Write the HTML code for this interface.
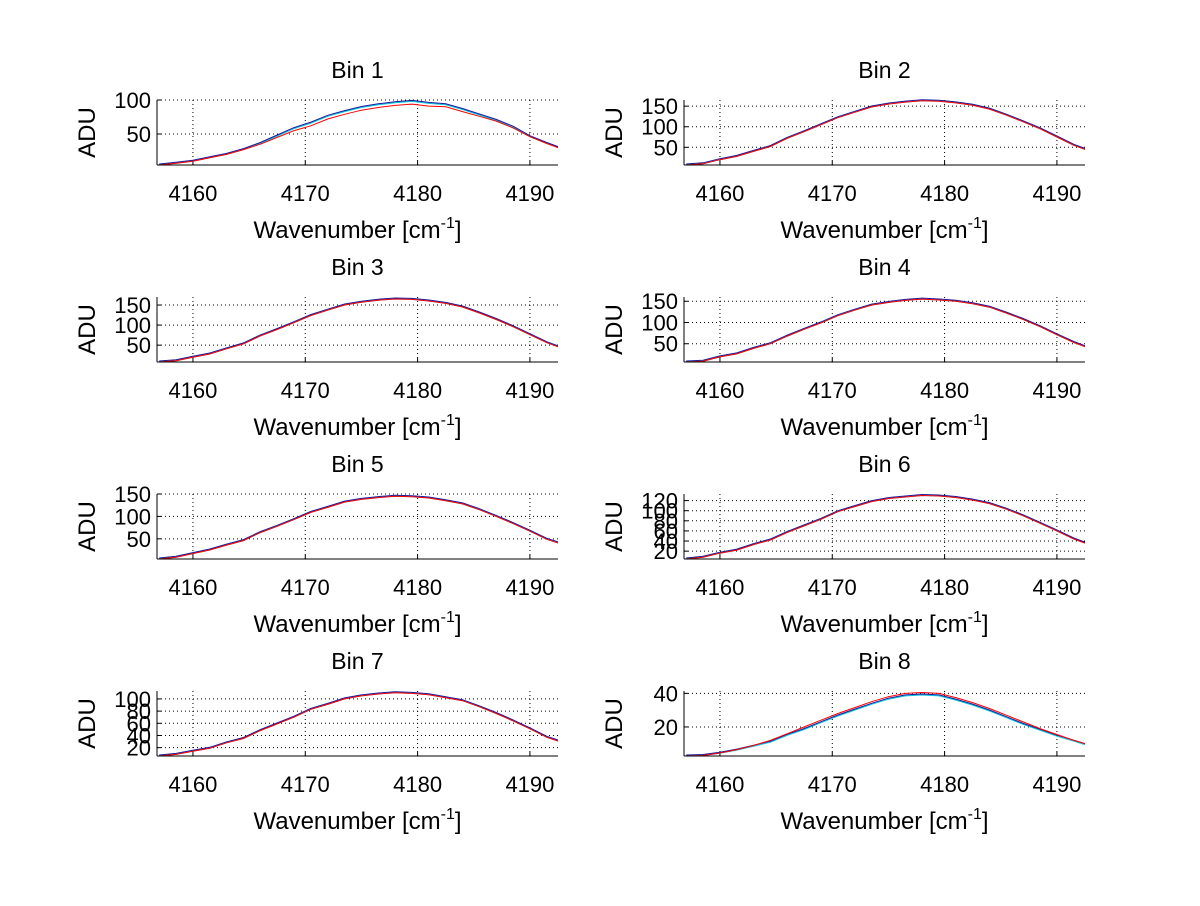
<!DOCTYPE html>
<html><head><meta charset="utf-8"><style>
body{margin:0;background:#fff;}
svg text{font-family:"Liberation Sans",sans-serif;fill:#000;}
</style></head><body>
<svg id="fig" width="1200" height="901" xmlns="http://www.w3.org/2000/svg"></svg>
<script>
const xs=[4157,4158.5,4160,4161.5,4163,4164.5,4166,4167.5,4169,4170.5,4172,4173.5,4175,4176.5,4178,4179.5,4181,4182.5,4184,4185.5,4187,4188.5,4190,4191.5,4192.5];
const xTicks=[4160,4170,4180,4190];
const binTitles=["Bin 1","Bin 2","Bin 3","Bin 4","Bin 5","Bin 6","Bin 7","Bin 8"];
const bin1Red=[4.4,7,10,15,20,27,35,45,55,62,72,79,85,89,92,94,91,90,83,76,69,59,46,36,30];
const bin1Blue=[4.4,7,10,15,20,27,36,47,58,66,76,83,89,93,96,98,95,93,86,78,70,60,46,36,30];
const bin2Red=[7,10,20,28,40,52,72,88,105,122,135,148,155,160,163,162,158,152,143,128,112,95,75,55,45];
const bin3Red=[8,11,20,28,41,53,73,89,106,124,137,150,157,162,165,164,160,154,145,130,114,96,76,56,46];
const bin4Red=[7,9,19,26,39,50,68,84,99,116,129,141,147,152,155,153,150,144,136,122,107,90,71,53,43];
const bin5Red=[5,9,17,25,36,46,64,78,93,109,120,132,138,142,145,144,141,135,128,115,100,84,67,49,41];
const bin6Red=[4.5,8,16,22,33,42,57,70,83,98,108,118,124,127,130,129,126,121,114,103,90,75,60,44,36];
const bin7Red=[6.3,9,14,19,28,35,48,59,70,83,91,100,105,108,110,109,107,102,97,87,76,64,51,37,31];
const bin8Red=[2.7,3,4.5,6.5,9,12,16,20,24,28,31.5,35,38,40,40.5,40,37.5,34.5,31,27,23,19,15.5,12,10];
const bin8Blue=[2.7,3,4.3,6.2,8.5,11,15,18.5,22.5,26.5,30,33.5,36.5,38.5,39,38.5,36,33,29.5,25.5,21.5,18,14.5,11.5,9.5];
const redSeries=[bin1Red,bin2Red,bin3Red,bin4Red,bin5Red,bin6Red,bin7Red,bin8Red];
const blueSeries=[bin1Blue,bin2Red,bin3Red,bin4Red,bin5Red,bin6Red,bin7Red,bin8Blue];
const yMins=[4.4,7,8,7,5,4.5,6.3,2.7];
const yMaxs=[100,165,170,160,150,133,113,41.4];
const yTickSets=[[50,100],[50,100,150],[50,100,150],[50,100,150],[50,100,150],[20,40,60,80,100,120],[20,40,60,80,100],[20,40]];
const X0=4156.8,X1=4192.5;
const NS="http://www.w3.org/2000/svg";
const svg=document.getElementById('fig');
function mk(tag,attrs,parent){const e=document.createElementNS(NS,tag);for(const k in attrs)e.setAttribute(k,attrs[k]);(parent||svg).appendChild(e);return e;}
for(let b=0;b<8;b++){
  const col=b%2,row=Math.floor(b/2);
  const L=157+col*527,R=L+401,T=100+row*197,B=T+65;
  const sx=v=>L+(v-X0)/(X1-X0)*(R-L);
  const sy=v=>B-(v-yMins[b])/(yMaxs[b]-yMins[b])*(B-T);
  const g=mk('g',{});
  
  
  xTicks.forEach(t=>{
    const l=mk('line',{x1:sx(t),x2:sx(t),y1:T,y2:B,stroke:'#000','stroke-width':1,'stroke-dasharray':'1,3'},g);
    
    
    mk('line',{x1:sx(t),x2:sx(t),y1:B,y2:B-4,stroke:'#000'},g);
    const tx=mk('text',{x:sx(t),y:B+36,'text-anchor':'middle','font-size':22},g);
    tx.textContent=t;
    
    
  });
  yTickSets[b].forEach(t=>{
    const l=mk('line',{x1:L,x2:R,y1:sy(t),y2:sy(t),stroke:'#000','stroke-width':1,'stroke-dasharray':'1,3'},g);
    
    
    mk('line',{x1:L,x2:L+4,y1:sy(t),y2:sy(t),stroke:'#000'},g);
    const tx=mk('text',{x:L-6,y:sy(t)+8,'text-anchor':'end','font-size':22},g);
    tx.textContent=t;
    
    
  });
  const pts=arr=>arr.map((v,i)=>sx(xs[i]).toFixed(1)+','+sy(v).toFixed(1)).join(' ');
  const cy=mk('polyline',{points:pts(blueSeries[b]),fill:'none',stroke:'#00c8e0','stroke-width':1},g);
  
  
  const bl=mk('polyline',{points:pts(blueSeries[b]),fill:'none',stroke:'#1a1a9a','stroke-width':1,transform:'translate(0,-1)'},g);
  
  
  const rd=mk('polyline',{points:pts(redSeries[b]),fill:'none',stroke:'#ff0000','stroke-width':1},g);
  
  
  mk('line',{x1:L,x2:L,y1:T,y2:B,stroke:'#000'},g);
  mk('line',{x1:L,x2:R,y1:B,y2:B,stroke:'#000'},g);
  const ti=mk('text',{x:(L+R)/2,y:T-22,'text-anchor':'middle','font-size':23},g);
  ti.textContent=binTitles[b];
  
  
  const yl=mk('text',{x:0,y:0,'text-anchor':'middle','font-size':24,transform:`translate(${L-62},${(T+B)/2}) rotate(-90)`},g);
  yl.textContent='ADU';
  
  
  const xl=mk('text',{x:(L+R)/2,y:B+73,'text-anchor':'middle','font-size':24},g);
  
  
  xl.appendChild(document.createTextNode('Wavenumber [cm'));
  const sup=mk('tspan',{dy:-10,'font-size':16},xl);sup.textContent='-1';
  const cl=mk('tspan',{dy:10},xl);cl.textContent=']';
}
</script>
</body></html>
